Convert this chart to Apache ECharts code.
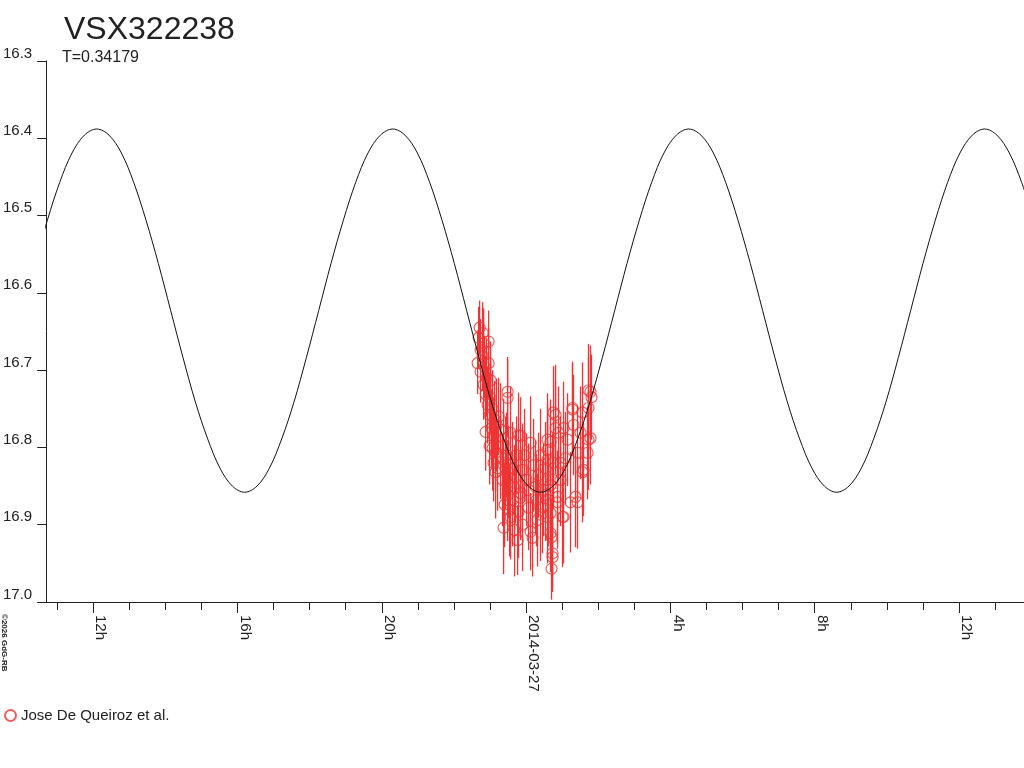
<!DOCTYPE html>
<html>
<head>
<meta charset="utf-8">
<title>VSX322238</title>
<script src="https://cdn.jsdelivr.net/npm/echarts@6/dist/echarts.min.js"></script>
<style>
html, body { margin: 0; padding: 0; background: #fff; }
#chart { width: 1024px; height: 768px; }
</style>
</head>
<body>
<div id="chart"></div>
<script>
// hours relative to 2014-03-27 00:00
var minorHours = [-13, -12, -11, -10, -9, -8, -7, -6, -5, -4, -3, -2, -1, 0, 1, 2, 3, 4, 5, 6, 7, 8, 9, 10, 11, 12, 13];
var majorHours = [-12, -8, -4, 0, 4, 8, 12];

// model light curve
var curveTime = [-13.609, -13.267, -12.925, -12.584, -12.242,
    -11.900, -11.558, -11.216, -10.875, -10.533, -10.191, -9.849, -9.507, -9.166, -8.824, -8.482, -8.140,
    -7.799, -7.457, -7.115, -6.773, -6.431, -6.090, -5.748, -5.406, -5.064, -4.722, -4.381, -4.039,
    -3.697, -3.355, -3.013, -2.672, -2.330, -1.988, -1.646, -1.304, -0.963, -0.621, -0.279, 0.063,
    0.404, 0.746, 1.088, 1.430, 1.772, 2.113, 2.455, 2.797, 3.139, 3.481, 3.822, 4.164,
    4.506, 4.848, 5.190, 5.531, 5.873, 6.215, 6.557, 6.898, 7.240, 7.582, 7.924, 8.266,
    8.607, 8.949, 9.291, 9.633, 9.975, 10.316, 10.658, 11.000, 11.342, 11.684, 12.025, 12.367,
    12.709, 13.051, 13.393, 13.734, 14.076];
var curveMag = [16.562, 16.506, 16.457, 16.419, 16.396,
    16.388, 16.396, 16.419, 16.457, 16.506, 16.562, 16.623, 16.684, 16.741, 16.789, 16.827, 16.850,
    16.858, 16.850, 16.827, 16.789, 16.741, 16.684, 16.623, 16.562, 16.506, 16.457, 16.419, 16.396,
    16.388, 16.396, 16.419, 16.457, 16.506, 16.562, 16.623, 16.684, 16.741, 16.789, 16.827, 16.850,
    16.858, 16.850, 16.827, 16.789, 16.741, 16.684, 16.623, 16.562, 16.506, 16.457, 16.419, 16.396,
    16.388, 16.396, 16.419, 16.457, 16.506, 16.562, 16.623, 16.684, 16.741, 16.789, 16.827, 16.850,
    16.858, 16.850, 16.827, 16.789, 16.741, 16.684, 16.623, 16.562, 16.506, 16.457, 16.419, 16.396,
    16.388, 16.396, 16.419, 16.457, 16.506];

// observations (Jose De Queiroz et al.)
var obsTime = [-1.287, -1.204, -1.315, -1.176, -1.038, -1.260, -1.204, -1.343, -1.149, -1.038,
    -1.260, -1.093, -1.176, -0.983, -1.121, -0.983, -1.066, -0.927, -1.010, -0.872,
    -0.955, -0.817, -0.900, -0.927, -0.844, -0.900, -0.789, -0.844, -0.761, -0.706,
    -0.706, -0.567, -0.512, -0.512, -0.623, -0.540, -0.484, -0.651, -0.512, -0.512,
    -0.595, -0.457, -0.429, -0.623, -0.374, -0.318, -0.291, -0.374, -0.263, -0.208,
    -0.152, -0.429, -0.235, -0.152, -0.152, -0.208, -0.097, -0.042, 0.014, 0.069,
    0.125, 0.125, 0.180, 0.208, 0.263, 0.291, 0.346, 0.401, 0.401, 0.457,
    0.484, 0.540, 0.595, 0.595, 0.595, 0.595, 0.623, 0.678, 0.678, 0.678,
    0.678, 0.706, 0.734, 0.734, 0.734, 0.706, 0.761, 0.761, 0.817, 0.817,
    0.872, 0.872, 0.900, 0.955, 0.955, 1.010, 1.038, 1.038, 1.093, 1.149,
    1.232, 1.287, 1.287, 1.315, 1.370, 1.426, 1.426, 1.509, 1.564, 1.564,
    1.592, 1.703, 1.730, 1.730, 1.730, 1.785, 1.813, 1.785, 0.540, 0.318,
    0.069, -0.318, -0.097, -1.121, -1.010];
var obsMag = [16.645, 16.652, 16.658, 16.665, 16.663, 16.674, 16.682, 16.691, 16.696, 16.691,
    16.702, 16.710, 16.719, 16.713, 16.731, 16.736, 16.745, 16.750, 16.758, 16.764,
    16.775, 16.771, 16.785, 16.801, 16.807, 16.820, 16.827, 16.832, 16.760, 16.777,
    16.812, 16.820, 16.728, 16.736, 16.797, 16.810, 16.832, 16.842, 16.846, 16.861,
    16.874, 16.881, 16.890, 16.904, 16.868, 16.852, 16.838, 16.827, 16.810, 16.784,
    16.785, 16.781, 16.920, 16.859, 16.865, 16.883, 16.829, 16.810, 16.842, 16.878,
    16.794, 16.909, 16.917, 16.823, 16.851, 16.868, 16.836, 16.810, 16.887, 16.877,
    16.855, 16.827, 16.816, 16.790, 16.803, 16.890, 16.868, 16.849, 16.793, 16.885,
    16.911, 16.916, 16.842, 16.937, 16.942, 16.957, 16.755, 16.820, 16.758, 16.775,
    16.864, 16.871, 16.781, 16.820, 16.842, 16.890, 16.775, 16.890, 16.814, 16.790,
    16.871, 16.749, 16.751, 16.771, 16.864, 16.807, 16.871, 16.781, 16.755, 16.832,
    16.829, 16.807, 16.726, 16.749, 16.790, 16.728, 16.735, 16.788, 16.861, 16.894,
    16.855, 16.907, 16.900, 16.780, 16.798];
var obsErr = [0.035, 0.040, 0.040, 0.045, 0.040, 0.040, 0.045, 0.040, 0.040, 0.045,
    0.040, 0.050, 0.045, 0.050, 0.050, 0.045, 0.050, 0.050, 0.055, 0.050,
    0.050, 0.060, 0.050, 0.055, 0.050, 0.050, 0.055, 0.060, 0.050, 0.060,
    0.055, 0.060, 0.045, 0.050, 0.060, 0.055, 0.060, 0.060, 0.055, 0.060,
    0.055, 0.060, 0.055, 0.060, 0.060, 0.055, 0.060, 0.060, 0.050, 0.055,
    0.050, 0.060, 0.045, 0.060, 0.055, 0.060, 0.060, 0.060, 0.060, 0.055,
    0.060, 0.050, 0.050, 0.060, 0.060, 0.060, 0.055, 0.060, 0.060, 0.060,
    0.060, 0.060, 0.055, 0.060, 0.060, 0.060, 0.060, 0.055, 0.055, 0.060,
    0.050, 0.050, 0.060, 0.045, 0.045, 0.040, 0.060, 0.060, 0.065, 0.060,
    0.060, 0.060, 0.060, 0.060, 0.060, 0.065, 0.060, 0.060, 0.060, 0.060,
    0.065, 0.060, 0.060, 0.065, 0.065, 0.060, 0.060, 0.060, 0.065, 0.065,
    0.060, 0.060, 0.060, 0.065, 0.065, 0.060, 0.055, 0.060, 0.060, 0.060,
    0.060, 0.060, 0.060, 0.050, 0.050];

var FONT = '"Liberation Sans", Arial, sans-serif';
var RED = '#ee3535';
var INK = '#222';

var curveData = [];
for (var i = 0; i < curveTime.length; i++) {
    curveData.push([curveTime[i], curveMag[i]]);
}
var obsData = [];
for (var j = 0; j < obsTime.length; j++) {
    obsData.push([obsTime[j], obsMag[j], obsErr[j]]);
}

function hourLabel(v) {
    if (v === 0) return '2014-03-27';
    return (((v % 24) + 24) % 24) + 'h';
}

var chart = echarts.init(document.getElementById('chart'), null, { renderer: 'canvas' });

var option = {
    backgroundColor: '#fff',
    animation: false,
    textStyle: { fontFamily: FONT },
    grid: { left: 45, right: 0, top: 61, bottom: 166 },
    legend: {
        data: ['Jose De Queiroz et al.'],
        left: 4, top: 708, padding: 0,
        itemWidth: 11, itemHeight: 11,
        textStyle: { fontSize: 15, color: INK, fontFamily: FONT }
    },
    xAxis: [{
        type: 'value',
        position: 'bottom',
        min: -13.3, max: 13.8,
        axisLine: { show: true, onZero: false, lineStyle: { color: INK, width: 1 } },
        axisTick: { show: true, length: 8, customValues: minorHours, lineStyle: { color: INK } },
        axisLabel: { show: false },
        splitLine: { show: false }
    }, {
        type: 'value',
        position: 'bottom',
        offset: 0,
        min: -13.3, max: 13.8,
        axisLine: { show: false, onZero: false },
        axisTick: { show: true, length: 11, customValues: majorHours, lineStyle: { color: INK } },
        axisLabel: {
            show: true, customValues: majorHours, rotate: -90, margin: 13,
            verticalAlign: 'bottom',
            fontSize: 15, color: INK, fontFamily: FONT,
            formatter: hourLabel
        },
        splitLine: { show: false }
    }],
    yAxis: {
        type: 'value',
        inverse: true,
        min: 16.3, max: 17.0, interval: 0.1,
        axisLine: { show: true, onZero: false, lineStyle: { color: INK, width: 1 } },
        axisTick: { show: true, length: 9, lineStyle: { color: INK } },
        axisLabel: {
            margin: 14, verticalAlign: 'bottom',
            fontSize: 15, color: INK, fontFamily: FONT,
            formatter: function (v) { return v.toFixed(1); }
        },
        splitLine: { show: false }
    },
    graphic: [{
        type: 'text', left: 64, top: 14,
        style: { text: 'VSX322238', font: '32px ' + FONT, fill: INK }
    }, {
        type: 'text', left: 62, top: 50,
        style: { text: 'T=0.34179', font: '16px ' + FONT, fill: INK }
    }, {
        type: 'text', left: 0, top: 614, rotation: -Math.PI / 2,
        style: { text: '\u00a92026 GdG-RB', font: 'bold 8px ' + FONT, fill: INK }
    }],
    series: [{
        name: 'errors',
        type: 'custom',
        z: 1,
        data: obsData,
        encode: { x: 0, y: 1 },
        renderItem: function (params, api) {
            var t = api.value(0), m = api.value(1), e = api.value(2);
            var a = api.coord([t, m - e]);
            var b = api.coord([t, m + e]);
            return {
                type: 'line',
                shape: { x1: a[0], y1: a[1], x2: b[0], y2: b[1] },
                style: { stroke: RED, lineWidth: 1.3 }
            };
        }
    }, {
        name: 'Jose De Queiroz et al.',
        type: 'scatter',
        z: 2,
        symbol: 'circle',
        symbolSize: 11,
        data: obsData,
        itemStyle: { color: 'rgba(0,0,0,0)', borderColor: RED, borderWidth: 1.2 }
    }, {
        name: 'model',
        type: 'line',
        z: 3,
        data: curveData,
        smooth: 0.35,
        showSymbol: false,
        clip: true,
        lineStyle: { color: '#111', width: 1 }
    }]
};

chart.setOption(option);
</script>
</body>
</html>
